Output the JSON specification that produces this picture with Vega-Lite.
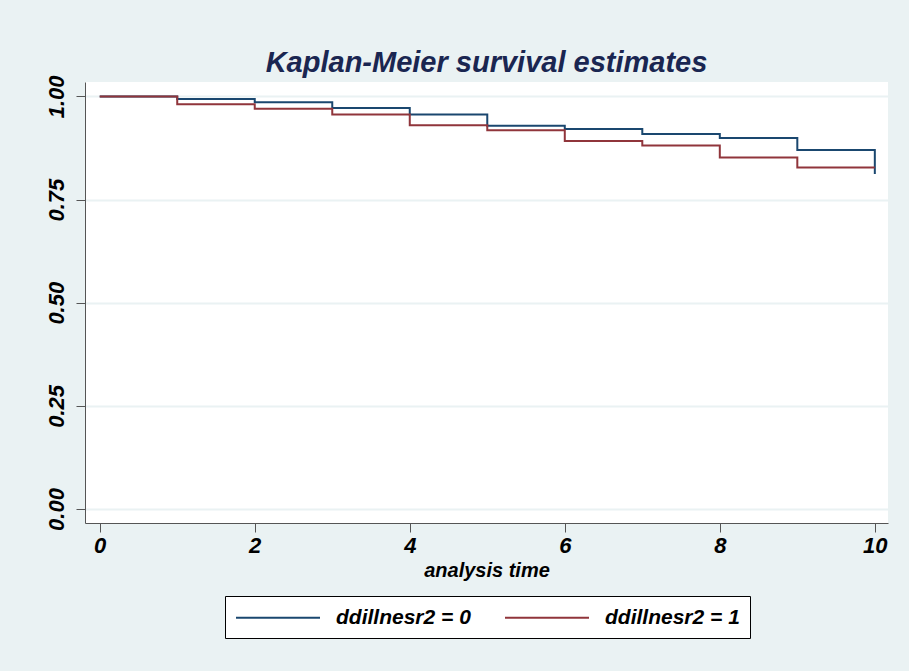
{
  "$schema": "https://vega.github.io/schema/vega-lite/v6.json",
  "width": 803,
  "height": 441,
  "autosize": "none",
  "padding": {"left": 85, "top": 82, "right": 21, "bottom": 148},
  "background": "#EAF2F3",
  "title": {
    "text": "Kaplan-Meier survival estimates",
    "font": "Liberation Sans",
    "fontSize": 29,
    "fontStyle": "italic",
    "fontWeight": "bold",
    "color": "#1A2651",
    "anchor": "middle",
    "offset": 6,
    "dy": 32,
    "baseline": "alphabetic"
  },
  "data": {
    "values": [
      {"time": 0, "survival": 1.0, "group": "ddillnesr2 = 0"},
      {"time": 1, "survival": 0.994, "group": "ddillnesr2 = 0"},
      {"time": 2, "survival": 0.986, "group": "ddillnesr2 = 0"},
      {"time": 3, "survival": 0.972, "group": "ddillnesr2 = 0"},
      {"time": 4, "survival": 0.956, "group": "ddillnesr2 = 0"},
      {"time": 5, "survival": 0.929, "group": "ddillnesr2 = 0"},
      {"time": 6, "survival": 0.921, "group": "ddillnesr2 = 0"},
      {"time": 7, "survival": 0.909, "group": "ddillnesr2 = 0"},
      {"time": 8, "survival": 0.899, "group": "ddillnesr2 = 0"},
      {"time": 9, "survival": 0.870, "group": "ddillnesr2 = 0"},
      {"time": 10, "survival": 0.812, "group": "ddillnesr2 = 0"},
      {"time": 0, "survival": 1.0, "group": "ddillnesr2 = 1"},
      {"time": 1, "survival": 0.981, "group": "ddillnesr2 = 1"},
      {"time": 2, "survival": 0.970, "group": "ddillnesr2 = 1"},
      {"time": 3, "survival": 0.956, "group": "ddillnesr2 = 1"},
      {"time": 4, "survival": 0.930, "group": "ddillnesr2 = 1"},
      {"time": 5, "survival": 0.918, "group": "ddillnesr2 = 1"},
      {"time": 6, "survival": 0.892, "group": "ddillnesr2 = 1"},
      {"time": 7, "survival": 0.881, "group": "ddillnesr2 = 1"},
      {"time": 8, "survival": 0.852, "group": "ddillnesr2 = 1"},
      {"time": 9, "survival": 0.828, "group": "ddillnesr2 = 1"},
      {"time": 10, "survival": 0.828, "group": "ddillnesr2 = 1"}
    ]
  },
  "mark": {"type": "line", "interpolate": "step-after", "strokeWidth": 2},
  "encoding": {
    "x": {
      "field": "time",
      "type": "quantitative",
      "scale": {"domain": [-0.19, 10.17], "nice": false, "zero": false},
      "axis": {
        "values": [0, 2, 4, 6, 8, 10],
        "title": "analysis time",
        "grid": false,
        "tickSize": 9,
        "tickColor": "#555555",
        "domainColor": "#555555",
        "labelFont": "Liberation Sans",
        "labelFontSize": 22,
        "labelFontStyle": "italic",
        "labelFontWeight": "bold",
        "labelColor": "#000000",
        "labelPadding": 3,
        "titleFont": "Liberation Sans",
        "titleFontSize": 20,
        "titleFontStyle": "italic",
        "titleFontWeight": "bold",
        "titleColor": "#000000",
        "titlePadding": 4
      }
    },
    "y": {
      "field": "survival",
      "type": "quantitative",
      "scale": {"domain": [-0.034, 1.035], "nice": false, "zero": false},
      "axis": {
        "values": [0, 0.25, 0.5, 0.75, 1],
        "format": ".2f",
        "title": null,
        "grid": true,
        "gridColor": "#EAF2F3",
        "gridWidth": 2,
        "tickSize": 9,
        "tickColor": "#555555",
        "domainColor": "#555555",
        "labelAngle": -90,
        "labelAlign": "center",
        "labelBaseline": "alphabetic",
        "labelFont": "Liberation Sans",
        "labelFontSize": 22,
        "labelFontStyle": "italic",
        "labelFontWeight": "bold",
        "labelColor": "#000000",
        "labelPadding": 13
      }
    },
    "color": {
      "field": "group",
      "type": "nominal",
      "scale": {"domain": ["ddillnesr2 = 0", "ddillnesr2 = 1"], "range": ["#1A476F", "#90353B"]},
      "legend": {
        "title": null,
        "orient": "none",
        "legendX": 140,
        "legendY": 514,
        "direction": "horizontal",
        "symbolType": "M-1,0H7",
        "symbolSize": 441,
        "symbolStrokeWidth": 2,
        "labelFont": "Liberation Sans",
        "labelFontSize": 21,
        "labelFontStyle": "italic",
        "labelFontWeight": "bold",
        "labelColor": "#000000",
        "labelOffset": 78,
        "columnPadding": 30,
        "padding": 10,
        "strokeColor": "#000000",
        "fillColor": "#FFFFFF"
      }
    }
  },
  "config": {
    "view": {"fill": "white", "stroke": null}
  }
}
